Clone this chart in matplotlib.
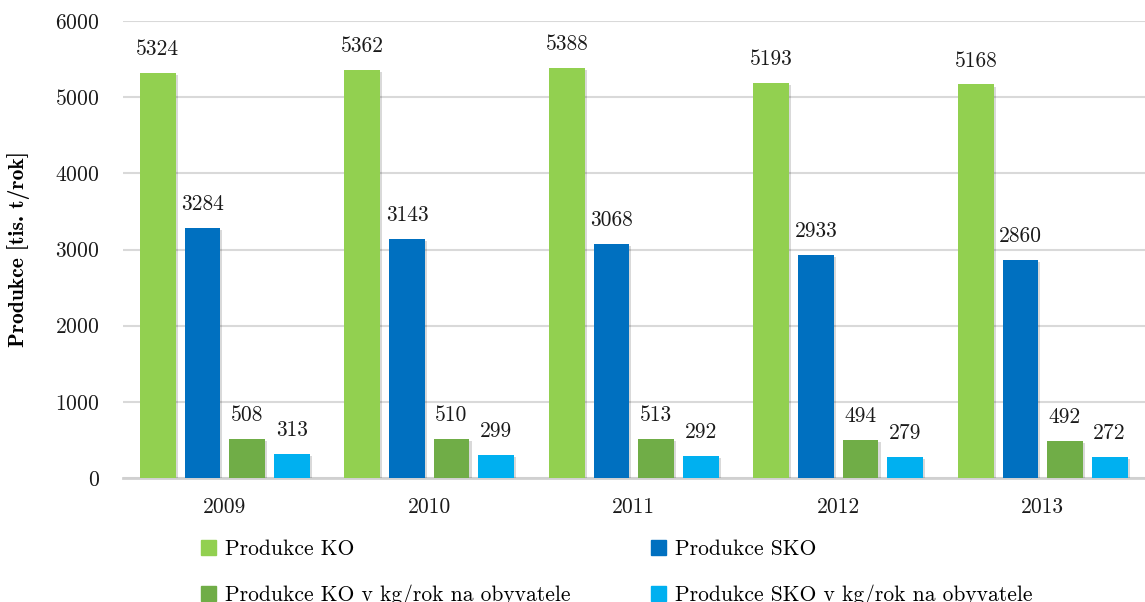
import numpy as np
import matplotlib
matplotlib.use("Agg")
import matplotlib.pyplot as plt
import matplotlib.patheffects as pe
from matplotlib.patches import Patch

plt.rcParams['font.family'] = ['cmr10', 'DejaVu Serif']
plt.rcParams['axes.formatter.use_mathtext'] = True
plt.rcParams['font.size'] = 15.5

years = ['2009', '2010', '2011', '2012', '2013']
ko = [5324, 5362, 5388, 5193, 5168]
sko = [3284, 3143, 3068, 2933, 2860]
ko_kg = [508, 510, 513, 494, 492]
sko_kg = [313, 299, 292, 279, 272]

series = [
    ('Produkce KO', ko, '#92D050'),
    ('Produkce SKO', sko, '#0070C0'),
    ('Produkce KO v kg/rok na obyvatele', ko_kg, '#70AD47'),
    ('Produkce SKO v kg/rok na obyvatele', sko_kg, '#00B0F0'),
]

fig = plt.figure(figsize=(11.45, 6.02), dpi=100)
ax = fig.add_axes([0.107, 0.206, 0.893, 0.759])

ind = np.arange(len(years))
width = 0.175
step = 0.218
shadow = [pe.SimplePatchShadow(offset=(1.5, -1.5), shadow_rgbFace='#000000', alpha=0.15), pe.Normal()]

for i, (name, vals, col) in enumerate(series):
    bars = ax.bar(ind + (i - 1.5) * step, vals, width, color=col, zorder=3)
    for b in bars:
        b.set_path_effects(shadow)
    for x, v in zip(ind + (i - 1.5) * step, vals):
        ax.annotate(str(v), (x, v), xytext=(0, 10), textcoords='offset points',
                    ha='center', va='bottom', fontsize=15.5, color='#1a1a1a')

ax.set_xlim(-0.5, 4.5)
ax.set_ylim(0, 6000)
ax.set_yticks(np.arange(0, 6001, 1000))
ax.set_xticks(ind)
ax.set_xticklabels(years)
ax.tick_params(length=0, pad=16.5, colors='#1a1a1a')
ax.tick_params(axis='x', pad=14)
ax.grid(axis='y', color='#d9d9d9', linewidth=1.5, zorder=0)
ax.set_axisbelow(True)
for s in ['top', 'right', 'left']:
    ax.spines[s].set_visible(False)
ax.spines['bottom'].set_color('#d0d0d0')
ax.spines['bottom'].set_linewidth(2)

ax.set_ylabel('Produkce [tis. t/rok]', family=['cmb10', 'DejaVu Serif'], fontsize=15.5)
ax.yaxis.set_label_coords(-0.09, 0.5)

handles = [Patch(color=series[k][2], label=series[k][0]) for k in [0, 2, 1, 3]]
fig.legend(handles=handles, ncol=2, loc='upper left', bbox_to_anchor=(0.168, 0.118),
           frameon=False, fontsize=15.5, handlelength=0.7, handleheight=0.7,
           handletextpad=0.4, columnspacing=3.77, labelspacing=1.18, borderaxespad=0)

plt.savefig('out.png', dpi=100)
